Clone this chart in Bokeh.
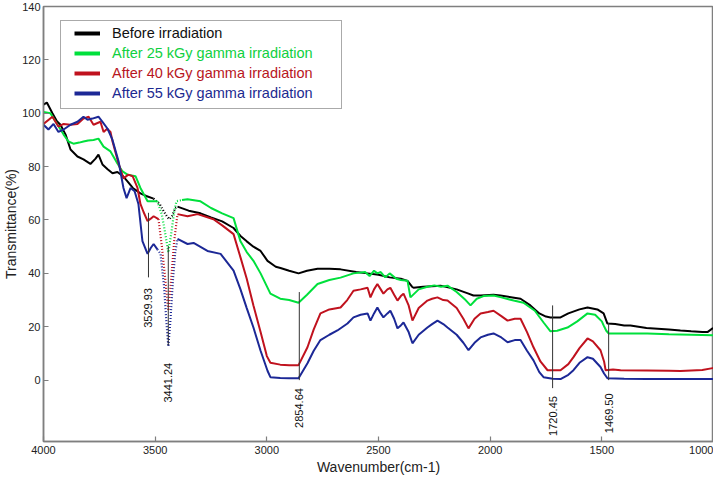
import math
from bokeh.plotting import figure
from bokeh.models import Range1d, FixedTicker, Legend, LegendItem, ColumnDataSource
from bokeh.core.properties import value
from bokeh.embed import file_html
from bokeh.resources import INLINE

# ---------------- data ----------------
series_names = ["Before irradiation", "After 25 kGy gamma irradiation",
                "After 40 kGy gamma irradiation", "After 55 kGy gamma irradiation"]

before_x = [4000, 3985, 3960, 3940, 3924, 3901, 3879, 3848, 3821, 3790, 3767, 3754, 3736, 3713, 3691,
            3669, 3645, 3624, 3600, 3566, 3540, 3507, 3480, 3460, 3445, 3436, 3425, 3410, 3400, 3350,
            3297, 3250, 3200, 3149, 3118, 3090, 3060, 3028, 2997, 2960, 2939, 2900, 2858, 2820, 2773,
            2720, 2670, 2600, 2549, 2500, 2450, 2400, 2370, 2350, 2343, 2300, 2222, 2150, 2100, 2075,
            2043, 1985, 1954, 1900, 1864, 1820, 1780, 1750, 1730, 1700, 1685, 1650, 1600, 1564, 1520,
            1492, 1475, 1440, 1400, 1372, 1300, 1200, 1148, 1100, 1050, 1027, 1004, 1000]
before_y = [103.2, 104, 100, 97, 95.7, 92, 86.4, 83.8, 82.7, 81, 83, 84.5, 80.8, 79, 77.5,
            78, 76.5, 74.5, 72, 70, 69, 68, 66, 63, 61, 60.3, 61.5, 64.5, 65, 63.5,
            62.5, 61, 59.5, 57, 54, 52, 50, 48.4, 44.7, 42.5, 42, 41, 40, 41, 41.7,
            41.7, 41.5, 40.5, 40, 39.5, 38.5, 38, 37.2, 35, 34.6, 35, 35.4, 34, 32.5, 31.7,
            31.7, 32, 31.7, 31, 30.5, 28, 25, 23.8, 23.5, 23.5, 23.5, 25, 26.5, 27.2, 26.5,
            25, 21.2, 21, 20.5, 20.5, 19.5, 19, 18.6, 18.3, 18, 18, 19.4, 19.5]

kgy25_x = [4000, 3969, 3937, 3910, 3888, 3866, 3840, 3821, 3800, 3776, 3754, 3731, 3700, 3669, 3646,
           3624, 3588, 3566, 3534, 3510, 3490, 3470, 3455, 3441, 3428, 3415, 3405, 3380, 3355, 3297,
           3250, 3200, 3149, 3118, 3090, 3060, 3028, 2984, 2940, 2900, 2858, 2820, 2773, 2720, 2670,
           2612, 2560, 2540, 2520, 2505, 2490, 2470, 2450, 2420, 2400, 2370, 2357, 2320, 2281, 2250,
           2220, 2191, 2150, 2110, 2088, 2060, 2030, 1985, 1950, 1895, 1851, 1800, 1760, 1730, 1700,
           1654, 1610, 1564, 1530, 1500, 1492, 1480, 1470, 1400, 1296, 1200, 1100, 1004, 1000]
kgy25_y = [100.5, 100, 95.7, 92, 89.4, 88.6, 89, 89.4, 89.8, 90, 90.5, 87.5, 85.7, 81.2, 78.2,
           77, 76.4, 72, 67, 67, 67, 62, 55, 47.8, 55, 63, 67, 67.5, 67.8, 67,
           64.5, 62.5, 60.7, 52, 48, 44.7, 40, 32.4, 30.5, 30, 29, 32, 36, 37.5, 38.4,
           40, 40.5, 39, 41, 40, 40.5, 38.5, 40, 38, 37.5, 37.2, 31, 34, 35, 35.5,
           35, 35.4, 33, 30, 28, 30.5, 31.5, 31.7, 31, 29.8, 29, 26, 21.5, 18.3, 18.5,
           19.7, 22, 25, 24.5, 22, 20.5, 18.5, 17.5, 17.5, 17.5, 17.2, 17, 16.8, 16.8]

kgy40_x = [4000, 3960, 3933, 3910, 3880, 3848, 3821, 3798, 3776, 3745,
           3731, 3715, 3700, 3691, 3664, 3642, 3620, 3601, 3579, 3566,
           3552, 3534, 3520, 3507, 3485, 3470, 3455, 3441, 3428, 3415,
           3400, 3355, 3310, 3239, 3200, 3149, 3118, 3090, 3060, 3028,
           3000, 2984, 2940, 2900, 2858, 2818, 2790, 2760, 2720, 2670,
           2640, 2612, 2580, 2549, 2536, 2520, 2505, 2490, 2478, 2460,
           2447, 2430, 2415, 2400, 2388, 2365, 2348, 2320, 2281, 2260,
           2236, 2210, 2191, 2150, 2120, 2097, 2070, 2043, 2010, 1985,
           1950, 1922, 1890, 1864, 1835, 1806, 1775, 1743, 1710, 1685,
           1650, 1627, 1600, 1564, 1540, 1506, 1490, 1483, 1450, 1416,
           1300, 1200, 1148, 1050, 1004, 1000]
kgy40_y = [96, 98.7, 95, 96, 95.7, 96, 98, 98.7, 95.7, 96.8,
           93, 94.2, 93, 89.4, 81.2, 75.6, 77, 76.4, 72, 66,
           63, 59.6, 60.5, 61.4, 60.3, 50, 38, 26, 38, 52,
           62.2, 61.4, 62.2, 60.3, 58, 54.7, 46, 38, 28, 18,
           9, 6.5, 5.8, 5.6, 5.6, 12.3, 19, 25, 26.5, 27.2,
           30, 33.5, 34, 34.6, 31, 34, 36, 34, 32.4, 34,
           34.6, 32, 29.8, 31.5, 32.4, 28, 22.3, 27, 29.8, 30.5,
           31, 30, 29.8, 27, 23, 19.4, 23, 25, 25.5, 26,
           24, 22.3, 23, 23, 18, 12.3, 7, 3.7, 3.7, 3.7,
           6, 8.6, 12, 15.6, 14.5, 11.2, 7, 3.7, 4, 3.7,
           3.6, 3.5, 3.4, 3.8, 4.5, 4.5]

kgy55_x = [4000, 3978, 3955, 3933, 3910, 3879, 3848, 3821, 3803, 3781,
           3754, 3736, 3713, 3691, 3664, 3642, 3628, 3610, 3592, 3575,
           3557, 3534, 3520, 3507, 3490, 3476, 3460, 3450, 3441, 3432,
           3420, 3410, 3400, 3355, 3328, 3266, 3207, 3149, 3118, 3090,
           3060, 3028, 2997, 2984, 2940, 2900, 2858, 2818, 2790, 2760,
           2720, 2684, 2639, 2612, 2580, 2549, 2536, 2520, 2505, 2490,
           2478, 2460, 2447, 2430, 2415, 2400, 2388, 2365, 2348, 2320,
           2281, 2260, 2236, 2210, 2191, 2150, 2120, 2097, 2070, 2043,
           2010, 1985, 1950, 1922, 1890, 1864, 1835, 1806, 1780, 1761,
           1720, 1685, 1650, 1627, 1600, 1564, 1540, 1506, 1490, 1475,
           1400, 1300, 1148, 1004, 1000]
kgy55_y = [95.7, 93.9, 96, 93, 93.9, 95.7, 96.8, 98.7, 97.6, 98,
           98.7, 96.8, 94.2, 90, 82, 72, 68.2, 72, 70.8, 66,
           52.1, 47.3, 49.5, 51, 49, 47.3, 35, 22, 12.6, 22,
           38, 48, 52.9, 51, 51.4, 48.4, 47.3, 41, 34, 27,
           19.7, 11, 3.5, 1.1, 0.8, 0.7, 0.7, 6.3, 11, 15,
           17, 18.6, 21.2, 23.5, 24.5, 25, 22.3, 25, 27.2, 25,
           23.5, 25, 26, 23, 19.4, 20.5, 21.6, 18, 13.8, 17,
           19.7, 21, 22.3, 21, 19.7, 17, 14, 11.2, 14, 16,
           17, 17.5, 16, 14.2, 15, 15, 11, 7.4, 3, 1.1,
           0.5, 0.4, 2, 3.7, 6.5, 8.6, 8, 4.9, 2.5, 0.7,
           0.5, 0.4, 0.4, 0.4, 0.4]

peak_x = [3529.93, 3441.24, 2854.64, 1720.45, 1469.50]
peak_labels = ["3529.93", "3441.24", "2854.64", "1720.45", "1469.50"]
peak_line_top = [62.7, 50.3, 33.0, 28.0, 21.5]
peak_line_bottom = [38.5, 13.0, 0.0, -3.0, 0.0]
peak_label_top = [34.5, 6.5, -3.0, -6.0, -5.0]

x_ticks = [4000, 3500, 3000, 2500, 2000, 1500, 1000]
y_ticks = [0, 20, 40, 60, 80, 100, 120, 140]

# ---------------- style ----------------
FONT = "Liberation Sans"
colors = ["#000000", "#00e03c", "#c0121e", "#1c2896"]
text_colors = ["#111111", "#10d040", "#b81622", "#1c2a90"]
AXC = "#7f7f7f"
FRAME_W, FRAME_H = 670, 435

p = figure(frame_width=FRAME_W, frame_height=FRAME_H,
           x_range=Range1d(4000, 1000), y_range=Range1d(-23, 140),
           output_backend="svg", toolbar_location=None,
           min_border_left=30, min_border_right=0, min_border_top=6, min_border_bottom=30)
p.background_fill_color = "white"
p.border_fill_color = "white"
p.grid.visible = False
p.outline_line_color = AXC
p.outline_line_width = 1.5
p.outline_line_alpha = 1

for ax in (p.xaxis[0], p.yaxis[0]):
    ax.axis_line_color = AXC
    ax.axis_line_width = 1.5
    ax.major_tick_line_color = AXC
    ax.major_tick_line_width = 1.2
    ax.major_tick_in = 5
    ax.major_tick_out = 0
    ax.minor_tick_line_color = None
    ax.major_label_text_font = FONT
    ax.major_label_text_font_size = "11px"
    ax.major_label_text_color = "#222222"
    ax.axis_label_text_font = FONT
    ax.axis_label_text_font_size = "14px"
    ax.axis_label_text_font_style = "normal"
    ax.axis_label_text_color = "#222222"
p.xaxis.major_label_standoff = 4
p.xaxis.axis_label_standoff = 2
p.yaxis.major_label_standoff = 3
p.yaxis.axis_label_standoff = 0
p.xaxis.ticker = FixedTicker(ticks=x_ticks)
p.yaxis.ticker = FixedTicker(ticks=y_ticks)
p.xaxis.axis_label = "Wavenumber(cm-1)"
p.yaxis.axis_label = "Transmittance(%)"

# ---------------- curves ----------------
DIP_HI, DIP_LO = 3480, 3405
all_series = [(before_x, before_y), (kgy25_x, kgy25_y), (kgy40_x, kgy40_y), (kgy55_x, kgy55_y)]
for (xs, ys), c in zip(all_series, colors):
    idx = [i for i, x in enumerate(xs) if DIP_LO <= x <= DIP_HI]
    a, b = idx[0] - 1, idx[-1] + 1
    p.line(xs[:a + 1], ys[:a + 1], line_color=c, line_width=2)
    p.line(xs[a:b + 1], ys[a:b + 1], line_color=c, line_width=2.2, line_dash="1 2")
    p.line(xs[b:], ys[b:], line_color=c, line_width=2)

# ---------------- peak markers ----------------
p.segment(x0=peak_x, y0=peak_line_top, x1=peak_x, y1=peak_line_bottom,
          line_color="#333333", line_width=1)
p.text(x=peak_x, y=peak_label_top, text=peak_labels, angle=math.pi / 2,
       text_align="right", text_baseline="middle", text_font=value(FONT),
       text_font_size="11px", text_color="#111111")

# ---------------- legend ----------------
# legend-sample renderers: their (off-range) data never shows inside the frame
visible_rends, hidden_rends = [], []
for c in colors:
    src = ColumnDataSource(data=dict(x=[5000, 5001], y=[300, 300]))
    visible_rends.append(p.line("x", "y", source=src, line_color=c, line_width=4))
    hidden_rends.append(p.line("x", "y", source=src, line_color=c, line_alpha=0))

common = dict(padding=6, glyph_height=18, glyph_width=26, label_height=18,
              label_text_font=FONT, label_text_font_size="14.5px",
              label_text_baseline="middle", margin=0)

# frame box (no visible glyphs, blank labels, width set by the standoff)
BOX_X, BOX_TOP, BOX_SPACING = 17, 16, 1
box_h = 2 * 6 + 4 * 18 + 3 * BOX_SPACING
box = Legend(items=[LegendItem(label=" ", renderers=[r]) for r in hidden_rends],
             location=(BOX_X, FRAME_H - BOX_TOP - box_h), spacing=BOX_SPACING, label_standoff=222,
             border_line_color="#555555", border_line_width=1.5,
             background_fill_color="white", background_fill_alpha=1, **common)
p.add_layout(box, "center")

# one legend per row so that each label gets its own colour
ROW_X, ROW_TOP, ROW_STEP = 25, 12, 20
for i, (n, r, tc) in enumerate(zip(series_names, visible_rends, text_colors)):
    row_h = 2 * 6 + 18
    lg = Legend(items=[LegendItem(label=n, renderers=[r])],
                location=(ROW_X, FRAME_H - (ROW_TOP + ROW_STEP * i) - row_h),
                spacing=0, label_standoff=12,
                border_line_alpha=0, background_fill_alpha=0, label_text_color=tc, **common)
    p.add_layout(lg, "center")

open("out.html", "w").write(file_html(p, INLINE))
